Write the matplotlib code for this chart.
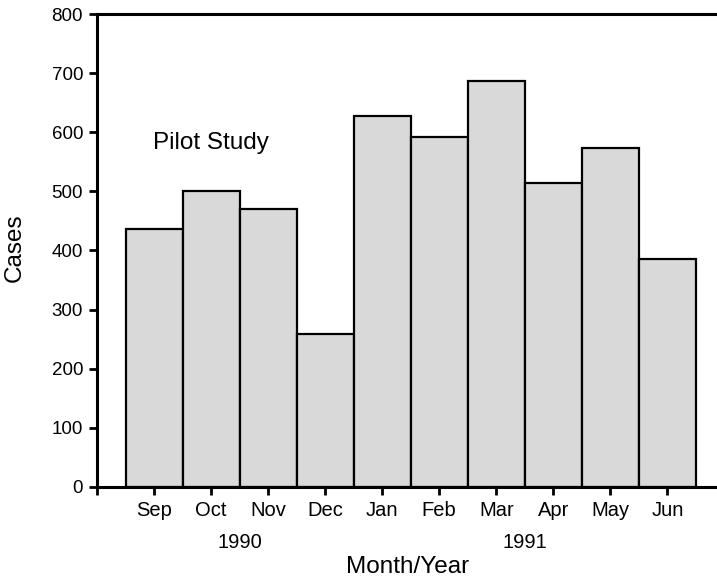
"""
plot.py — monthly case counts, pilot study (Sep 1990 – Jun 1991).
"""

import matplotlib
matplotlib.use("Agg")
import matplotlib.pyplot as plt
import matplotlib.transforms as mtransforms

months = ["Sep", "Oct", "Nov", "Dec", "Jan", "Feb", "Mar", "Apr", "May", "Jun"]
cases = [436, 500, 471, 259, 627, 592, 687, 515, 574, 385]
years = ["1990", "1991"]
year_pos = [1.5, 6.5]

plt.rcParams["font.family"] = ["Liberation Sans", "DejaVu Sans"]

fig = plt.figure(figsize=(7.17, 5.81), dpi=100)
ax = fig.add_axes([0.1353, 0.1623, 0.8647, 0.8131])

x = list(range(len(months)))
ax.bar(x, cases, width=1.0, color="#d9d9d9", edgecolor="black", linewidth=1.6)

ax.set_xlim(-1, 9.87)
ax.set_ylim(0, 800)
ax.set_yticks(range(0, 801, 100))
ax.set_xticks([-1] + x)
ax.set_xticklabels([""] + months)

for side in ["left", "bottom", "top"]:
    ax.spines[side].set_linewidth(2.2)
ax.spines["right"].set_visible(False)
ax.tick_params(direction="out", length=6, width=2, pad=4)
ax.tick_params(axis="y", labelsize=13.5)
ax.tick_params(axis="x", labelsize=14.5)

# year labels under the month names
trans = mtransforms.blended_transform_factory(ax.transData, fig.transFigure)
for yr, pos in zip(years, year_pos):
    ax.text(pos, 1 - 542 / 581, yr, transform=trans, ha="center", va="center", fontsize=14.5)

fig.text(408 / 717, 1 - 567 / 581, "Month/Year", ha="center", va="center", fontsize=17.5)
fig.text(15 / 717, 1 - 248 / 581, "Cases", ha="center", va="center", rotation=90, fontsize=17.5)
ax.text(1.0, 582, "Pilot Study", ha="center", va="center", fontsize=17.5)

fig.savefig("out.png", dpi=100)
plt.close(fig)
